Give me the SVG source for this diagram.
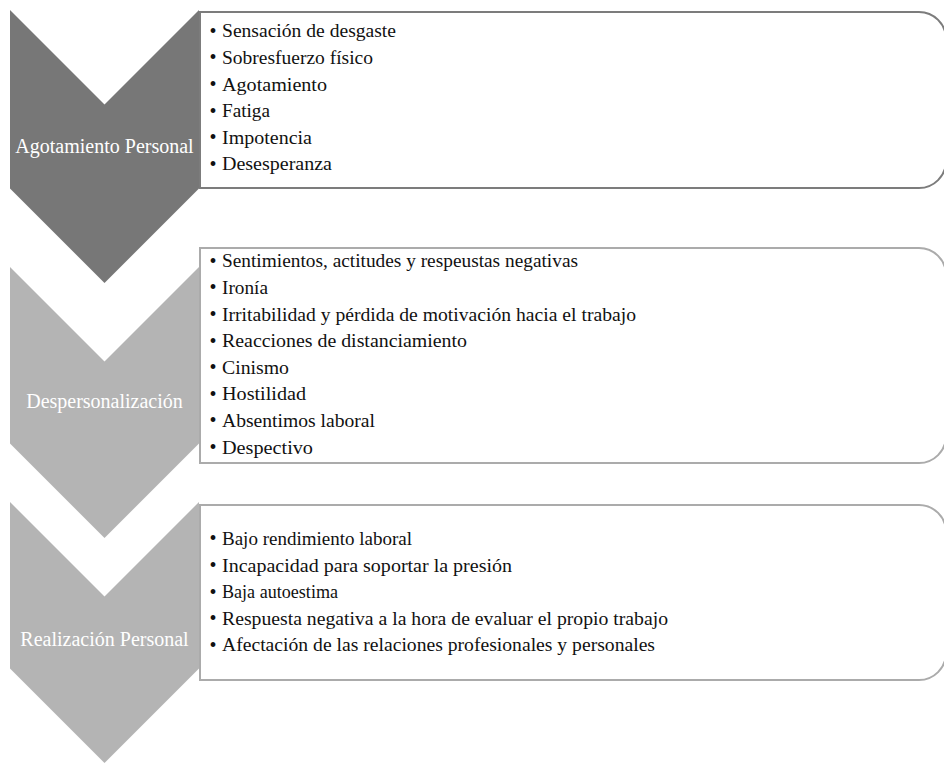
<svg xmlns="http://www.w3.org/2000/svg" width="944" height="773" viewBox="0 0 944 773">
<style>
.bg{fill:#ffffff}
.box1{fill:#ffffff;stroke:#7c7c7c;stroke-width:2}
.box2{fill:#ffffff;stroke:#ababab;stroke-width:2}
.chev-dark{fill:#777777}
.chev-light{fill:#b4b4b4}
.lbl{font-family:"Liberation Serif","Times New Roman",serif;font-size:20px;fill:#ffffff;text-anchor:middle}
.item{font-family:"Liberation Serif","Times New Roman",serif;font-size:18.5px;fill:#111111}
.bul{font-family:"Liberation Serif","Times New Roman",serif;font-size:20px;fill:#111111}
</style>
<rect class="bg" x="0" y="0" width="944" height="773"/>

<g id="box-agotamiento">
<path class="box1" d="M200 12 H919 A27 27 0 0 1 946 39 V161 A27 27 0 0 1 919 188 H200 Z"/>
<text class="bul" x="209.5" y="37.7">•</text><text class="item" x="222" y="37.3" textLength="174" lengthAdjust="spacingAndGlyphs">Sensación de desgaste</text>
<text class="bul" x="209.5" y="64.3">•</text><text class="item" x="222" y="63.9" textLength="151" lengthAdjust="spacingAndGlyphs">Sobresfuerzo físico</text>
<text class="bul" x="209.5" y="90.9">•</text><text class="item" x="222" y="90.5" textLength="105" lengthAdjust="spacingAndGlyphs">Agotamiento</text>
<text class="bul" x="209.5" y="117.5">•</text><text class="item" x="222" y="117.1" textLength="48" lengthAdjust="spacingAndGlyphs">Fatiga</text>
<text class="bul" x="209.5" y="144.1">•</text><text class="item" x="222" y="143.7" textLength="90" lengthAdjust="spacingAndGlyphs">Impotencia</text>
<text class="bul" x="209.5" y="170.7">•</text><text class="item" x="222" y="170.3" textLength="110" lengthAdjust="spacingAndGlyphs">Desesperanza</text>
</g>

<g id="box-despersonalizacion">
<path class="box2" d="M200 248 H919 A27 27 0 0 1 946 275 V436 A27 27 0 0 1 919 463 H200 Z"/>
<text class="bul" x="209.5" y="267.7">•</text><text class="item" x="222" y="267.3" textLength="356" lengthAdjust="spacingAndGlyphs">Sentimientos, actitudes y respeustas negativas</text>
<text class="bul" x="209.5" y="294.3">•</text><text class="item" x="222" y="293.9" textLength="46" lengthAdjust="spacingAndGlyphs">Ironía</text>
<text class="bul" x="209.5" y="320.9">•</text><text class="item" x="222" y="320.5" textLength="414" lengthAdjust="spacingAndGlyphs">Irritabilidad y pérdida de motivación hacia el trabajo</text>
<text class="bul" x="209.5" y="347.5">•</text><text class="item" x="222" y="347.1" textLength="245" lengthAdjust="spacingAndGlyphs">Reacciones de distanciamiento</text>
<text class="bul" x="209.5" y="374.1">•</text><text class="item" x="222" y="373.7" textLength="67" lengthAdjust="spacingAndGlyphs">Cinismo</text>
<text class="bul" x="209.5" y="400.7">•</text><text class="item" x="222" y="400.3" textLength="84" lengthAdjust="spacingAndGlyphs">Hostilidad</text>
<text class="bul" x="209.5" y="427.3">•</text><text class="item" x="222" y="426.9" textLength="153" lengthAdjust="spacingAndGlyphs">Absentimos laboral</text>
<text class="bul" x="209.5" y="453.9">•</text><text class="item" x="222" y="453.5" textLength="91" lengthAdjust="spacingAndGlyphs">Despectivo</text>
</g>

<g id="box-realizacion">
<path class="box2" d="M200 505 H919 A27 27 0 0 1 946 532 V653 A27 27 0 0 1 919 680 H200 Z"/>
<text class="bul" x="209.5" y="545.4">•</text><text class="item" x="222" y="545" textLength="190" lengthAdjust="spacingAndGlyphs">Bajo rendimiento laboral</text>
<text class="bul" x="209.5" y="572">•</text><text class="item" x="222" y="571.6" textLength="290" lengthAdjust="spacingAndGlyphs">Incapacidad para soportar la presión</text>
<text class="bul" x="209.5" y="598.6">•</text><text class="item" x="222" y="598.2" textLength="116" lengthAdjust="spacingAndGlyphs">Baja autoestima</text>
<text class="bul" x="209.5" y="625.2">•</text><text class="item" x="222" y="624.8" textLength="446" lengthAdjust="spacingAndGlyphs">Respuesta negativa a la hora de evaluar el propio trabajo</text>
<text class="bul" x="209.5" y="651.8">•</text><text class="item" x="222" y="651.4" textLength="433" lengthAdjust="spacingAndGlyphs">Afectación de las relaciones profesionales y personales</text>
</g>

<g id="chevron-agotamiento">
<polygon class="chev-dark" points="10,10 104.5,104.5 199,10 199,188.5 104.5,283 10,188.5"/>
<text class="lbl" x="104.5" y="153">Agotamiento Personal</text>
</g>

<g id="chevron-despersonalizacion">
<polygon class="chev-light" points="10,267 104.5,361.5 199,267 199,443.5 104.5,538 10,443.5"/>
<text class="lbl" x="104.5" y="408">Despersonalización</text>
</g>

<g id="chevron-realizacion">
<polygon class="chev-light" points="10,502 104.5,596.5 199,502 199,668.5 104.5,763 10,668.5"/>
<text class="lbl" x="104.5" y="646">Realización Personal</text>
</g>
</svg>
